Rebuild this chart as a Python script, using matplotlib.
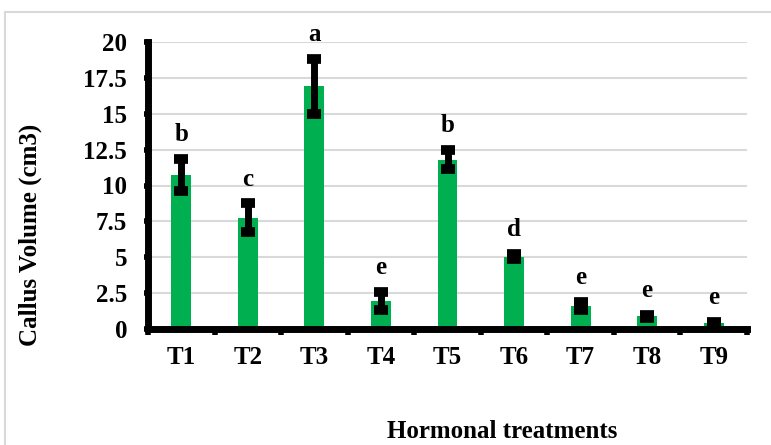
import matplotlib.pyplot as plt
import numpy as np
from matplotlib.patches import Rectangle

plt.rcParams['font.family'] = ['Liberation Serif', 'DejaVu Serif']
plt.rcParams['font.weight'] = 'bold'

treatments = ["T1", "T2", "T3", "T4", "T5", "T6", "T7", "T8", "T9"]
volume = [10.75, 7.75, 16.9, 1.95, 11.8, 5.05, 1.6, 0.9, 0.4]
errors = [1.1, 1.0, 1.9, 0.6, 0.65, 0.2, 0.3, 0.1, 0.1]
letters = ["b", "c", "a", "e", "b", "d", "e", "e", "e"]
yticks = [0, 2.5, 5, 7.5, 10, 12.5, 15, 17.5, 20]
ytick_labels = ["0", "2.5", "5", "7.5", "10", "12.5", "15", "17.5", "20"]

fs = 18

fig = plt.figure(figsize=(7.71, 4.45), dpi=100)
ax = fig.add_axes([148/771, 1-329/445, 599/771, 287/445])

x = np.arange(len(treatments))
ax.bar(x, volume, width=0.3, color="#00B050", zorder=2)
ax.errorbar(x, volume, yerr=errors, fmt="none", ecolor="black",
            elinewidth=5, capsize=5, capthick=7, zorder=3)

for xi, v, e, l in zip(x, volume, errors, letters):
    ax.text(xi, v + e + 0.9, l, ha="center", va="bottom", fontsize=fs, fontweight="bold")

ax.set_xlim(-0.5, 8.5)
ax.set_ylim(0, 20)
ax.set_yticks(yticks)
ax.set_yticklabels(ytick_labels, fontsize=fs, fontweight="bold")
ax.set_xticks(x)
ax.set_xticklabels(treatments, fontsize=fs, fontweight="bold")
ax.set_xticks(np.arange(-0.5, 9, 1), minor=True)
ax.tick_params(axis="x", which="major", length=0, pad=12)
ax.tick_params(axis="x", which="minor", length=4, width=4, direction="out")
ax.tick_params(axis="y", which="major", length=3, width=4, direction="out", pad=12)

ax.grid(axis="y", color="#d9d9d9", linewidth=1.5, zorder=0)
ax.set_axisbelow(True)
for s in ["top", "right"]:
    ax.spines[s].set_visible(False)
ax.spines["left"].set_linewidth(5)
ax.spines["bottom"].set_linewidth(5)

fig.text(30/771, 1-235/445, "Callus Volume (cm3)", rotation=90, ha="center", va="center",
         fontsize=fs, fontweight="bold")
fig.text(502/771, 1-432/445, "Hormonal treatments", ha="center", va="center",
         fontsize=fs, fontweight="bold")

fig.patches.append(Rectangle((5/771, -0.01), 1, 1-12/445 + 0.01, transform=fig.transFigure,
                             fill=False, edgecolor="#d9d9d9", linewidth=1.5))

fig.savefig("out.png", dpi=100)
